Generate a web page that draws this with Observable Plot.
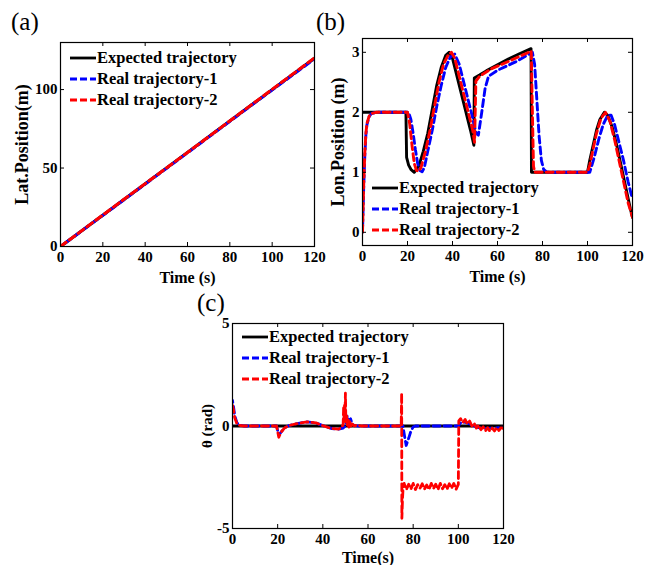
<!DOCTYPE html>
<html><head><meta charset="utf-8">
<script src="https://cdn.jsdelivr.net/npm/d3@7"></script>
<script src="https://cdn.jsdelivr.net/npm/@observablehq/plot@0.6"></script>
<style>
body{margin:0;background:#fff;}
#root{position:relative;width:659px;height:565px;overflow:hidden;font-family:"Liberation Serif","Times New Roman",serif;color:#000;}
.panel{position:absolute;}
.tag{position:absolute;font-size:25px;line-height:1;}
.legend{position:absolute;font-weight:bold;font-size:16.5px;}
.legend .row{display:flex;align-items:center;height:21px;white-space:nowrap;}
.legend svg{margin-right:1px;}
</style></head><body><div id="root"></div>
<script>
// ---------- shared ----------
const xTicks = [0, 20, 40, 60, 80, 100, 120];
const seriesNames = ["Expected trajectory", "Real trajectory-1", "Real trajectory-2"];
const seriesColors = ["#000000", "#0000ff", "#ff0000"];

// ---------- (a) Lat. position ----------
const aTicksY = [0, 50, 100];
const aT = [0, 30, 60, 90, 120];
const aY0 = [0, 30, 60, 90, 120];
const aY1 = [0, 29.8, 59.7, 89.8, 119.6];
const aY2 = [0, 30.1, 59.9, 90.1, 120.2];

// ---------- (b) Lon. position ----------
const bTicksY = [0, 1, 2, 3];
const bT0 = [0, 19.3, 19.6, 20.5, 21.5, 23, 25, 27, 29, 31, 33, 35, 37, 38.5, 40, 42, 44, 46, 48, 49.5, 49.7, 52, 55, 60, 65, 70, 74.9, 75.1, 100, 101, 102.5, 104, 105.5, 107.5, 109, 111, 113, 115, 117, 119, 120];
const bY0 = [2, 2, 1.25, 1.12, 1.05, 1.0, 1.1, 1.35, 1.65, 2.05, 2.45, 2.75, 2.95, 3.0, 2.9, 2.6, 2.3, 2.0, 1.7, 1.45, 2.57, 2.62, 2.69, 2.79, 2.89, 2.98, 3.06, 1.0, 1.0, 1.2, 1.45, 1.7, 1.88, 2.0, 1.95, 1.75, 1.45, 1.1, 0.75, 0.4, 0.25];
const bT1 = [0, 0.5, 1, 1.5, 2, 3, 4, 6, 20.5, 21.5, 22.5, 23.5, 24.5, 25.5, 26.5, 27.5, 29, 31, 33, 35, 37, 39, 41, 43, 45, 47, 49, 50.5, 51.5, 53, 54.5, 56, 60, 68, 75.5, 76.5, 77.5, 78.5, 79.5, 80.5, 82, 101, 103, 105, 107, 109, 110.5, 112, 114, 116, 118, 120];
const bY1 = [0, 0.7, 1.25, 1.62, 1.8, 1.93, 1.98, 2.0, 2.0, 1.88, 1.65, 1.38, 1.15, 1.03, 1.01, 1.08, 1.35, 1.7, 2.1, 2.45, 2.75, 2.92, 2.97, 2.8, 2.5, 2.2, 1.9, 1.65, 1.62, 2.0, 2.4, 2.6, 2.7, 2.84, 3.0, 2.8, 2.2, 1.6, 1.2, 1.05, 1.0, 1.0, 1.25, 1.55, 1.8, 1.95, 1.95, 1.8, 1.5, 1.2, 0.85, 0.55];
const bT2 = [0, 0.5, 1, 1.5, 2, 3, 4, 6, 20, 21, 22, 23, 24, 25, 26, 28, 30, 32, 34, 36, 38, 39.5, 41, 43, 45, 47, 49, 49.8, 50.4, 52, 57, 65, 75, 75.4, 76, 76.6, 100, 101, 102, 104, 106, 108, 110, 112, 114, 116, 118, 120];
const bY2 = [0, 0.75, 1.3, 1.65, 1.82, 1.94, 1.98, 2.0, 2.0, 1.8, 1.45, 1.15, 1.03, 1.02, 1.08, 1.35, 1.7, 2.1, 2.5, 2.8, 2.95, 3.0, 2.9, 2.6, 2.3, 2.0, 1.7, 1.5, 2.52, 2.6, 2.72, 2.85, 3.02, 2.2, 1.1, 1.0, 1.0, 1.12, 1.3, 1.65, 1.9, 2.0, 1.85, 1.55, 1.2, 0.85, 0.5, 0.25];

// ---------- (c) heading angle ----------
const cTicksY = [-5, 0, 5];
const cT0 = [0, 120];
const cY0 = [0, 0];
const cT1 = [0, 0.5, 1, 2, 3, 5, 19.5, 20.5, 21.5, 23, 25, 28, 33, 37, 40, 44, 47, 49, 50, 50.8, 51.5, 52.3, 53, 54, 56, 75.5, 76.2, 76.9, 78, 79, 80, 81, 100, 101, 102, 104, 106, 108, 110, 113, 116, 120];
const cY1 = [1.25, 0.9, 0.5, 0.15, 0.05, 0, 0, -0.45, -0.3, -0.1, 0.02, 0.1, 0.2, 0.15, 0.02, -0.13, -0.15, -0.1, 0, 0.5, 0.25, 0.35, 0.1, 0.02, 0, 0, -0.5, -0.95, -0.6, -0.25, -0.05, 0, 0, 0.15, 0.2, 0.15, 0.05, -0.05, -0.1, -0.12, -0.1, -0.05];
const cT2 = [0, 0.5, 1, 2, 3, 5, 19.5, 20.5, 21.5, 23, 25, 28, 33, 37, 40, 44, 47, 48.5, 49, 49.2, 49.4, 49.6, 49.8, 50, 50.2, 50.5, 50.8, 51.2, 51.6, 52, 52.5, 53, 54, 55, 57, 74.7, 74.9, 75.0, 75.3, 75.6,
  76, 77, 78, 79, 80, 81, 82, 83, 84, 85, 86, 87, 88, 89, 90, 91, 92, 93, 94, 95, 96, 97, 98, 99, 100,
  100.2, 101, 102, 103, 104, 105, 106, 107, 108, 109, 110, 111, 112, 113, 114, 115, 116, 117, 118, 119, 120];
const cY2 = [1.0, 0.75, 0.4, 0.1, 0.03, 0, 0, -0.55, -0.3, -0.1, 0.02, 0.1, 0.2, 0.15, 0.02, -0.13, -0.15, -0.05, 0.1, 0.9, 0.3, 1.0, 0.4, 1.6, 0.2, 0.6, 0.0, 0.3, -0.05, 0.2, 0.0, 0.1, 0.0, 0.05, 0, 0, 1.6, -4.5, -3.5, -2.9,
  -2.8, -3.1, -2.84, -3.08, -2.8, -3.1, -2.86, -3.04, -2.82, -3.08, -2.88, -3.1, -2.8, -3.05, -2.84, -3.1, -2.8, -3.06, -2.86, -3.08, -2.82, -3.04, -2.8, -3.09, -2.85,
  0.25, 0.36, 0.16, 0.32, 0.1, 0.24, 0.0, 0.14, -0.1, 0.04, -0.18, -0.04, -0.24, -0.08, -0.26, -0.1, -0.24, -0.08, -0.22, -0.06, -0.14];

const zip = (ts, vs) => ts.map((t, i) => ({t, v: vs[i]}));

const root = document.getElementById("root");
const FONT = '"Liberation Serif","Times New Roman",serif';

function panel(cfg) {
  const {left, top, width, height, margin, yDomain, yTicks, ylabel, xlabel, series, yLabelOffset, xLabelOffset, yLabelSize, lineW} = cfg;
  const [mt, mr, mb, ml] = margin;
  const fw = width - ml - mr, fh = height - mt - mb;
  const marks = [];
  series.forEach((s, i) => {
    marks.push(Plot.line(s.data, {
      x: "t", y: "v", stroke: seriesColors[i], strokeWidth: lineW,
      strokeDasharray: i === 0 ? null : "7,4",
      strokeDashoffset: i === 1 ? 5 : 0,
      strokeLinejoin: "round", clip: true
    }));
  });
  marks.push(Plot.frame({stroke: "black", strokeWidth: 1.2}));
  marks.push(Plot.tickX(xTicks, {x: d => d, insetTop: fh - 4, stroke: "black"}));
  marks.push(Plot.tickX(xTicks, {x: d => d, insetBottom: fh - 4, stroke: "black"}));
  marks.push(Plot.tickY(yTicks, {y: d => d, insetRight: fw - 4, stroke: "black"}));
  marks.push(Plot.tickY(yTicks, {y: d => d, insetLeft: fw - 4, stroke: "black"}));
  marks.push(Plot.axisX(xTicks, {tickSize: 0, tickPadding: 5, label: null, tickFormat: d => String(d), fontSize: 15, fontWeight: "bold", fontFamily: FONT, fontVariant: "normal"}));
  marks.push(Plot.axisY(yTicks, {tickSize: 0, tickPadding: 3, label: null, tickFormat: d => String(d), fontSize: 15, fontWeight: "bold", fontFamily: FONT, fontVariant: "normal"}));
  marks.push(Plot.text([xlabel], {frameAnchor: "bottom", dy: xLabelOffset, text: d => d, fontSize: 16, fontWeight: "bold", fontFamily: FONT, lineAnchor: "middle", textAnchor: "middle"}));
  marks.push(Plot.text([ylabel], {frameAnchor: "left", dx: -yLabelOffset, rotate: -90, text: d => d, fontSize: yLabelSize, fontWeight: "bold", fontFamily: FONT, lineAnchor: "middle", textAnchor: "middle"}));
  const svg = Plot.plot({
    width, height, marginTop: mt, marginRight: mr, marginBottom: mb, marginLeft: ml,
    x: {domain: [0, 120]}, y: {domain: yDomain},
    style: {fontFamily: FONT, color: "black", background: "transparent", overflow: "visible"},
    marks
  });
  svg.classList.add("panel");
  svg.style.left = left + "px";
  svg.style.top = top + "px";
  svg.style.position = "absolute";
  root.appendChild(svg);
}

function legend(left, top) {
  const div = document.createElement("div");
  div.className = "legend";
  div.style.left = left + "px";
  div.style.top = top + "px";
  seriesNames.forEach((name, i) => {
    const row = document.createElement("div");
    row.className = "row";
    const dash = i === 0 ? "" : 'stroke-dasharray="7,3"';
    row.innerHTML = `<svg width="26" height="6"><line x1="0" y1="3" x2="26" y2="3" stroke="${seriesColors[i]}" stroke-width="2.8" ${dash}/></svg><span>${name}</span>`;
    div.appendChild(row);
  });
  root.appendChild(div);
}

function tag(text, left, top) {
  const d = document.createElement("div");
  d.className = "tag";
  d.style.left = left + "px";
  d.style.top = top + "px";
  d.textContent = text;
  root.appendChild(d);
}

panel({left: 0, top: 30, width: 330, height: 260, margin: [12, 16, 44, 60], yDomain: [0, 130], yTicks: aTicksY,
  ylabel: "Lat.Position(m)", xlabel: "Time (s)", yLabelOffset: 38, xLabelOffset: 31, yLabelSize: 18, lineW: 3,
  series: [zip(aT, aY0), zip(aT, aY1), zip(aT, aY2)].map(data => ({data}))});
panel({left: 320, top: 30, width: 339, height: 260, margin: [8, 27, 45, 42], yDomain: [-0.22, 3.23], yTicks: bTicksY,
  ylabel: "Lon.Position (m)", xlabel: "Time (s)", yLabelOffset: 24, xLabelOffset: 31, yLabelSize: 18, lineW: 2.9,
  series: [zip(bT0, bY0), zip(bT1, bY1), zip(bT2, bY2)].map(data => ({data}))});
panel({left: 180, top: 310, width: 340, height: 255, margin: [13, 17, 37, 52], yDomain: [-5, 5], yTicks: cTicksY,
  ylabel: "θ (rad)", xlabel: "Time(s)", yLabelOffset: 25, xLabelOffset: 29, yLabelSize: 15, lineW: 2.8,
  series: [zip(cT0, cY0), zip(cT1, cY1), zip(cT2, cY2)].map(data => ({data}))});

legend(70, 47.5);
legend(372, 177.5);
legend(242, 326.5);

tag("(a)", 11, 9);
tag("(b)", 316, 9);
tag("(c)", 197, 290);
</script></body></html>
